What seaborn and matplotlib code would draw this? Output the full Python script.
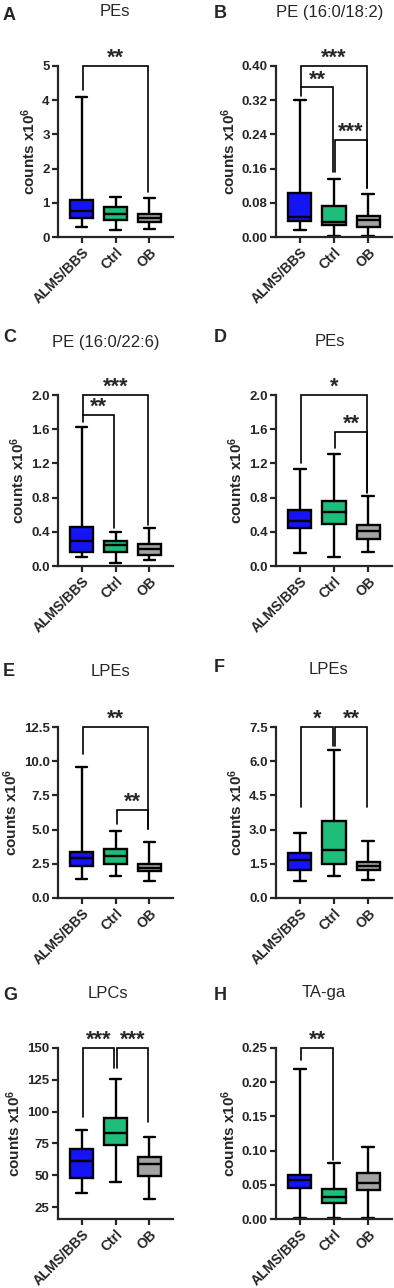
import matplotlib
matplotlib.use("Agg")
import numpy as np
import pandas as pd
import matplotlib.pyplot as plt
from matplotlib.ticker import MultipleLocator, FormatStrFormatter
import seaborn as sns

GROUPS = ["ALMS/BBS", "Ctrl", "OB"]
COLORS = ["#1414f5", "#1fbd7a", "#a3a3a3"]

# five-number summaries: min, q1, median, q3, max (x10^6)
stats_A = [[0.29, 0.55, 0.77, 1.07, 4.10], [0.20, 0.50, 0.67, 0.87, 1.18], [0.23, 0.45, 0.55, 0.66, 1.13]]
stats_B = [[0.016, 0.037, 0.047, 0.102, 0.320], [0.002, 0.028, 0.034, 0.073, 0.136], [0.002, 0.024, 0.040, 0.050, 0.101]]
stats_C = [[0.10, 0.16, 0.29, 0.46, 1.62], [0.04, 0.16, 0.24, 0.29, 0.40], [0.07, 0.13, 0.20, 0.26, 0.45]]
stats_D = [[0.155, 0.45, 0.53, 0.65, 1.13], [0.10, 0.49, 0.63, 0.76, 1.31], [0.16, 0.32, 0.41, 0.48, 0.815]]
stats_E = [[1.36, 2.31, 2.95, 3.36, 9.58], [1.61, 2.46, 3.05, 3.58, 4.90], [1.24, 1.95, 2.19, 2.51, 4.09]]
stats_F = [[0.75, 1.21, 1.65, 1.99, 2.87], [0.95, 1.48, 2.09, 3.36, 6.48], [0.77, 1.24, 1.40, 1.58, 2.50]]
stats_G = [[36.0, 48.2, 60.8, 70.9, 85.5], [44.6, 73.8, 82.9, 94.7, 126.0], [31.3, 49.5, 58.7, 64.1, 80.3]]
stats_H = [[0.001, 0.045, 0.057, 0.065, 0.220], [0.001, 0.024, 0.032, 0.044, 0.082], [0.001, 0.043, 0.053, 0.067, 0.105]]

# comparisons: (group i, group j, bar height, left leg end, right leg end, label)
comp_A = [(0, 2, 5.0, 4.3, 1.33, "**")]
comp_B = [(0, 2, 0.40, 0.35, 0.114, "***"), (0, 1, 0.35, 0.33, 0.153, "**"), (1, 2, 0.227, 0.153, 0.114, "***")]
comp_C = [(0, 2, 2.0, 1.77, 0.485, "***"), (0, 1, 1.77, 1.68, 0.445, "**")]
comp_D = [(0, 2, 2.0, 1.2, 0.866, "*"), (1, 2, 1.57, 1.38, 0.85, "**")]
comp_E = [(0, 2, 12.5, 10.5, 5.07, "**"), (1, 2, 6.46, 5.43, 5.07, "**")]
comp_F = [(0, 1, 7.5, 4.0, 6.65, "*"), (1, 2, 7.5, 6.65, 4.0, "**")]
comp_G = [(0, 1, 150, 96, 134, "***"), (1, 2, 150, 134, 92, "***")]
comp_H = [(0, 1, 0.25, 0.232, 0.086, "**")]

PANELS = [
    ("A", "PEs", stats_A, comp_A, (0, 5), 1, "%d"),
    ("B", "PE (16:0/18:2)", stats_B, comp_B, (0, 0.40), 0.08, "%.2f"),
    ("C", "PE (16:0/22:6)", stats_C, comp_C, (0, 2.0), 0.4, "%.1f"),
    ("D", "PEs", stats_D, comp_D, (0, 2.0), 0.4, "%.1f"),
    ("E", "LPEs", stats_E, comp_E, (0, 12.5), 2.5, "%.1f"),
    ("F", "LPEs", stats_F, comp_F, (0, 7.5), 1.5, "%.1f"),
    ("G", "LPCs", stats_G, comp_G, (15.6, 150), 25, "%d"),
    ("H", "TA-ga", stats_H, comp_H, (0, 0.25), 0.05, "%.2f"),
]

sns.set_style("ticks")
plt.rcParams["font.family"] = ["Liberation Sans", "DejaVu Sans"]
plt.rcParams["mathtext.fontset"] = "custom"
plt.rcParams["mathtext.bf"] = "Liberation Sans:bold"
plt.rcParams["mathtext.rm"] = "Liberation Sans:bold"
plt.rcParams["mathtext.default"] = "bf"

W, H = 394, 1288
fig = plt.figure(figsize=(W / 100, H / 100), dpi=100)

col_left = [58, 276]
col_width = [115, 116]
row_top = [66, 395, 727, 1048]
ax_h = 171
title_pos = [(115, 12), (330, 12), (106, 342), (330, 342), (110, 672), (329, 670), (108, 993), (324, 993)]
letter_pos = [(3, 15), (214, 13), (3, 337), (214, 337), (3, 672), (214, 668), (3, 995), (214, 995)]

for k, (letter, title, stats, comps, ylim, step, fmt) in enumerate(PANELS):
    r, c = divmod(k, 2)
    ax = fig.add_axes([col_left[c] / W, 1 - (row_top[r] + ax_h) / H, col_width[c] / W, ax_h / H])

    df = pd.DataFrame([(g, v) for g, vals in zip(GROUPS, stats) for v in vals], columns=["group", "value"])
    sns.boxplot(data=df, x="group", y="value", hue="group", order=GROUPS, hue_order=GROUPS,
                palette=COLORS, saturation=1, whis=(0, 100), width=0.68, linewidth=1.7,
                linecolor="black", showfliers=False, legend=False, dodge=False, ax=ax)

    ax.set_xlim(-0.7, 2.7)
    ax.set_ylim(*ylim)
    ax.yaxis.set_major_locator(MultipleLocator(step))
    ax.yaxis.set_major_formatter(FormatStrFormatter(fmt))
    if letter == "G":
        ax.set_yticks([25, 50, 75, 100, 125, 150])
    sns.despine(ax=ax)
    for s in ["left", "bottom"]:
        ax.spines[s].set_linewidth(1.6)
    ax.tick_params(axis="both", direction="out", length=4, width=1.6, pad=2)
    ax.set_xticks(range(3))
    ax.set_xticklabels(GROUPS, rotation=45, ha="right", rotation_mode="anchor",
                       fontsize=10, fontweight="bold")
    for t in ax.get_yticklabels():
        t.set_fontsize(9.5)
        t.set_fontweight("bold")
    ax.set_xlabel("")
    ax.set_ylabel(r"counts x10$^{6}$", fontsize=11, fontweight="bold", labelpad=3)

    d = 0.04
    for i, j, yb, yl, yr, lab in comps:
        ax.plot([i + d, i + d, j - d, j - d], [yl, yb, yb, yr], color="black", lw=1.2,
                clip_on=False, solid_joinstyle="miter")
        ax.annotate(lab, xy=((i + j) / 2, yb), xytext=(0, 1.5), textcoords="offset points",
                    ha="center", va="baseline", fontsize=15.5, fontweight="bold",
                    annotation_clip=False)

    tx, ty = title_pos[k]
    fig.text(tx / W, 1 - ty / H, title, ha="center", va="center", fontsize=12)
    lx, ly = letter_pos[k]
    fig.text(lx / W, 1 - ly / H, letter, ha="left", va="center", fontsize=13, fontweight="bold")

fig.savefig("out.png", dpi=100)
